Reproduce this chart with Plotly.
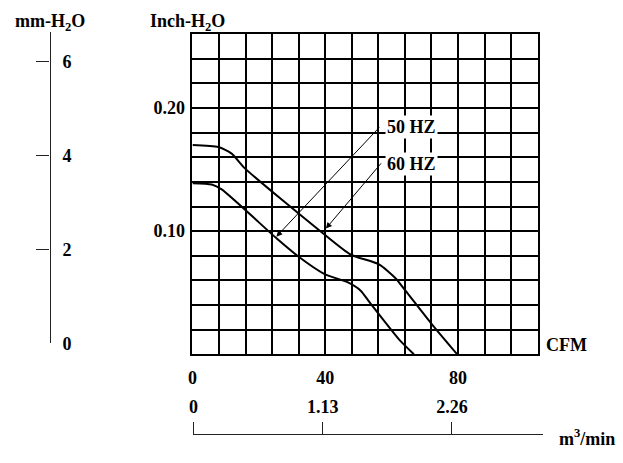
import plotly.graph_objects as go

# ---- data ----
cfm_60hz = [0, 7.8, 11.8, 15.8, 39.3, 47.6, 56.2, 61.1, 64.1, 72.2, 79.7]
inch_60hz = [0.170, 0.1683, 0.163, 0.151, 0.0982, 0.081, 0.073, 0.0619, 0.0518, 0.024, 0.0]

cfm_50hz = [0, 5.8, 8.8, 25.3, 31.8, 39.8, 46.7, 50.6, 53.6, 62.2, 66.7]
inch_50hz = [0.139, 0.1379, 0.1339, 0.0942, 0.0796, 0.0651, 0.0585, 0.0518, 0.0413, 0.0121, 0.0]

cfm_ticks = [0, 40, 80]
cfm_ticktext = ["0", "40", "80"]
inch_ticks = [0.10, 0.20]
inch_ticktext = ["0.10", "0.20"]
mm_ticks = [0, 2, 4, 6]
mm_ticktext = ["0", "2", "4", "6"]
m3_ticks = [0, 1.13, 2.26]
m3_ticktext = ["0", "1.13", "2.26"]

W, H = 623, 463
FONT = "Liberation Serif"
fsz = 18


def px_x(p):
    return p / W


def px_y(p):
    return 1 - p / H


bold = dict(family=FONT, size=fsz, color="black", weight="bold")

fig = go.Figure()

for xs, ys, name in [(cfm_60hz, inch_60hz, "60 HZ"), (cfm_50hz, inch_50hz, "50 HZ")]:
    fig.add_trace(go.Scatter(x=xs, y=ys, mode="lines", name=name,
                             line=dict(color="black", width=2, shape="spline", smoothing=0.6),
                             hoverinfo="skip", showlegend=False))

# invisible anchor traces for the auxiliary axes
fig.add_trace(go.Scatter(x=[0] * len(mm_ticks), y=mm_ticks, xaxis="x2", yaxis="y2",
                         mode="markers", marker=dict(opacity=0), hoverinfo="skip", showlegend=False))
fig.add_trace(go.Scatter(x=m3_ticks, y=[0] * len(m3_ticks), xaxis="x3", yaxis="y3",
                         mode="markers", marker=dict(opacity=0), hoverinfo="skip", showlegend=False))

grid = dict(showgrid=True, gridcolor="black", gridwidth=2)

fig.update_layout(
    width=W, height=H, margin=dict(l=0, r=0, t=0, b=0),
    paper_bgcolor="white", plot_bgcolor="rgba(0,0,0,0)",
    xaxis=dict(domain=[px_x(189), px_x(537)], range=[0, 104],
               tickvals=cfm_ticks, ticktext=cfm_ticktext, tickfont=bold,
               ticks="", ticklabelstandoff=6,
               minor=dict(dtick=8, tick0=0, showgrid=True, gridcolor="black", gridwidth=2),
               showline=True, mirror=True, linecolor="black", linewidth=2,
               zeroline=False, fixedrange=True, **grid),
    yaxis=dict(domain=[px_y(362), px_y(35)], range=[0, 0.26],
               tickvals=inch_ticks, ticktext=inch_ticktext, tickfont=bold,
               ticks="", ticklabelstandoff=2,
               minor=dict(dtick=0.02, tick0=0, showgrid=True, gridcolor="black", gridwidth=2),
               showline=True, mirror=True, linecolor="black", linewidth=2,
               zeroline=False, fixedrange=True, **grid),
    xaxis2=dict(domain=[0, 0.005], visible=False, anchor="y2", range=[0, 1]),
    yaxis2=dict(domain=[px_y(351), px_y(33)], range=[0, 6.625], anchor="free",
                position=px_x(45), side="right", ticks="inside", ticklen=13,
                tickwidth=1.3, tickcolor="#222", showline=True, linecolor="#222",
                linewidth=1.3, showgrid=False, zeroline=False,
                tickvals=mm_ticks, ticktext=mm_ticktext, tickfont=bold,
                ticklabelstandoff=8),
    xaxis3=dict(domain=[px_x(190), px_x(542)], range=[0, 3.053], anchor="free",
                position=px_y(444), side="top", ticks="outside", ticklen=12,
                tickwidth=1.3, tickcolor="#222", showline=True, linecolor="#222",
                linewidth=1.3, showgrid=False, zeroline=False,
                tickvals=m3_ticks, ticktext=m3_ticktext, tickfont=bold,
                ticklabelstandoff=2),
    yaxis3=dict(domain=[0, 0.005], visible=False, anchor="x3", range=[0, 1]),
)

texts = [
    ("mm-H<sub>2</sub>O", 8, 23, "left"),
    ("Inch-H<sub>2</sub>O", 144, 23, "left"),
    ("CFM", 543, 353, "left"),
    ("m<sup>3</sup>/min", 556, 447, "left"),
]
for t, x, y, xa in texts:
    fig.add_annotation(text=t, x=px_x(x), y=px_y(y), xref="paper", yref="paper",
                       xanchor=xa, yanchor="middle", showarrow=False, font=bold)

# curve labels with leader arrows
labels = [("50 HZ", 383, 130, 25.26, 0.0955, 56.7, 0.1855),
          ("60 HZ", 383, 168, 40.2, 0.1021, 57.2, 0.1563)]
for t, lx, ly, hx, hy, tx, ty in labels:
    fig.add_annotation(text=t, x=px_x(lx), y=px_y(ly), xref="paper", yref="paper",
                       xanchor="left", yanchor="middle", showarrow=False, font=bold,
                       bgcolor="white")
    fig.add_annotation(text="", x=hx, y=hy, ax=tx, ay=ty, xref="x", yref="y",
                       axref="x", ayref="y", showarrow=True, arrowhead=2,
                       arrowsize=1.2, arrowwidth=1, arrowcolor="black")

fig.write_html("out.html")
